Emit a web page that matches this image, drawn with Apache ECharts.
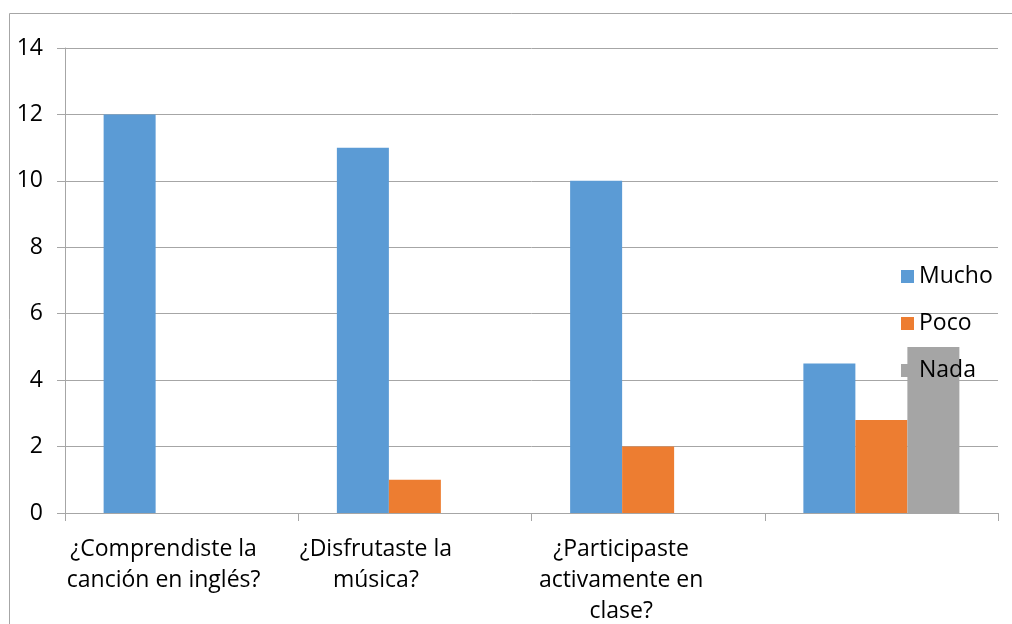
<!DOCTYPE html>
<html>
<head>
<meta charset="utf-8">
<script src="https://cdn.jsdelivr.net/npm/echarts@6/dist/echarts.min.js"></script>
<style>
html,body{margin:0;padding:0;background:#fff;}
#chart{width:1012px;height:624px;}
</style>
</head>
<body>
<div id="chart"></div>
<script>
var categories = ['¿Comprendiste la\ncanción en inglés?', '¿Disfrutaste la\nmúsica?', '¿Participaste\nactivamente en\nclase?', ''];
var labelShift = [36, 78, 54, 0];
var seriesNames = ['Mucho', 'Poco', 'Nada'];
var mucho = [12, 11, 10, 4.5];
var poco = [0, 1, 2, 2.8];
var nada = [0, 0, 0, 5];
var yTicks = { min: 0, max: 14, interval: 2 };

var font = '"Open Sans", Lato, sans-serif';
var chart = echarts.init(document.getElementById('chart'));
chart.setOption({
  animation: false,
  color: ['#5B9BD5', '#ED7D31', '#A5A5A5'],
  graphic: [{
    type: 'rect',
    shape: { x: 9.5, y: 13.5, width: 1100, height: 700 },
    style: { fill: 'none', stroke: '#a6a6a6', lineWidth: 1 },
    silent: true,
    z: -10
  }],
  grid: { left: 65, right: 14, top: 48, bottom: 111, containLabel: false, outerBoundsMode: 'none' },
  legend: {
    orient: 'vertical',
    left: 896,
    top: 260,
    itemWidth: 13,
    itemHeight: 13,
    itemGap: 24,
    itemTextGap: 5,
    icon: 'rect',
    data: seriesNames,
    textStyle: { fontFamily: font, fontSize: 23, color: '#000' }
  },
  xAxis: {
    type: 'category',
    data: categories.map(function (c, i) {
      return { value: c, textStyle: { padding: [0, labelShift[i], 0, 0] } };
    }),
    axisLine: { lineStyle: { color: '#a6a6a6', width: 1 } },
    axisTick: { show: true, length: 8, interval: 0, lineStyle: { color: '#a6a6a6' } },
    axisLabel: { interval: 0, margin: 21, fontFamily: font, fontSize: 23, lineHeight: 31, color: '#000' }
  },
  yAxis: {
    type: 'value',
    min: yTicks.min,
    max: yTicks.max,
    interval: yTicks.interval,
    axisLine: { show: true, lineStyle: { color: '#a6a6a6', width: 1 } },
    axisTick: { show: true, length: 8, lineStyle: { color: '#a6a6a6' } },
    splitLine: { lineStyle: { color: '#a6a6a6', width: 1 } },
    axisLabel: { margin: 22, fontFamily: font, fontSize: 23, color: '#000' }
  },
  series: [
    { name: seriesNames[0], type: 'bar', data: mucho, barWidth: 52, barGap: '0%' },
    { name: seriesNames[1], type: 'bar', data: poco, barWidth: 52, barGap: '0%' },
    { name: seriesNames[2], type: 'bar', data: nada, barWidth: 52, barGap: '0%' }
  ]
});
</script>
</body>
</html>
